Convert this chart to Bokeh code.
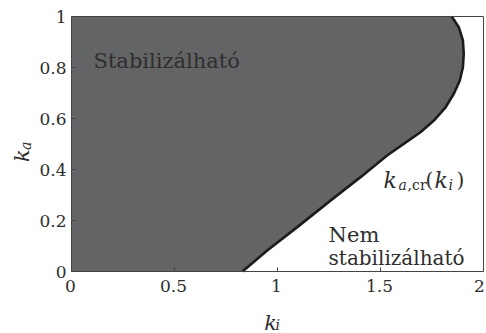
import math
from bokeh.plotting import figure
from bokeh.models import Range1d
from bokeh.core.properties import value
from bokeh.embed import file_html
from bokeh.resources import INLINE

# Boundary curve k_a,cr(k_i)
ki_curve = [0.83, 0.950, 1.096, 1.257, 1.403, 1.532, 1.637, 1.694, 1.759, 1.816,
            1.856, 1.885, 1.900, 1.904, 1.900, 1.880, 1.846]
ka_curve = [0.0, 0.082, 0.174, 0.278, 0.370, 0.455, 0.514, 0.546, 0.592, 0.644,
            0.697, 0.749, 0.801, 0.854, 0.906, 0.958, 1.0]

x_ticks = [0, 0.5, 1, 1.5, 2]
x_tick_labels = ["0", "0.5", "1", "1.5", "2"]
y_ticks = [0, 0.2, 0.4, 0.6, 0.8, 1]
y_tick_labels = ["0", "0.2", "0.4", "0.6", "0.8", "1"]

region_label = "Stabilizálható"
other_label_1 = "Nem"
other_label_2 = "stabilizálható"

FONT = value("DejaVu Serif")
TXT = "#2e2e2e"
AX = "#444444"

# canvas layout (pixels): plot box occupies x 71..483, y 16..271 of a 486x333 canvas
W, H = 486, 333
L, R, T, B = 71, 3, 16, 62
x0, x1 = x_ticks[0], x_ticks[-1]
y0, y1 = y_ticks[0], y_ticks[-1]
sx = (x1 - x0) / (W - L - R)
sy = (y1 - y0) / (H - T - B)

p = figure(width=W, height=H, output_backend="svg", toolbar_location=None,
           x_axis_type=None, y_axis_type=None,
           x_range=Range1d(x0 - L * sx, x1 + R * sx),
           y_range=Range1d(y0 - B * sy, y1 + T * sy),
           min_border=0)
p.grid.visible = False
p.outline_line_color = None
p.background_fill_color = "white"
p.border_fill_color = "white"

# stabilizable region: left of the curve
xs = [x0] + ki_curve + [x0]
ys = [y0] + ka_curve + [y1]
p.patch(xs, ys, fill_color="#636466", line_color=None)
p.line(ki_curve, ka_curve, line_color="#1c1c1c", line_width=2.6)

# axes box and inward ticks
p.quad(left=[x0], right=[x1], bottom=[y0], top=[y1], fill_color=None,
       line_color=AX, line_width=1)
p.ray(x=x_ticks, y=[y0] * len(x_ticks), length=4, length_units="screen",
      angle=math.pi / 2, line_color=AX, line_width=1)
p.ray(x=[x0] * len(y_ticks), y=y_ticks, length=4, length_units="screen",
      angle=0, line_color=AX, line_width=1)

# tick labels
p.text(x=x_ticks[:-1], y=[y0] * (len(x_ticks) - 1), text=x_tick_labels[:-1],
       text_font=FONT, text_font_size="17px", text_color=TXT,
       text_align="center", text_baseline="top", x_offset=-1, y_offset=8)
p.text(x=x_ticks[-1:], y=[y0], text=x_tick_labels[-1:],
       text_font=FONT, text_font_size="17px", text_color=TXT,
       text_align="center", text_baseline="top", x_offset=-4, y_offset=8)
p.text(x=[x0] * len(y_ticks), y=y_ticks, text=y_tick_labels,
       text_font=FONT, text_font_size="17px", text_color=TXT,
       text_align="right", text_baseline="middle", x_offset=-5, y_offset=0)

def txt(x, y, s, size, style="normal", xo=0, yo=0, angle=0, align="left"):
    p.text(x=[x], y=[y], text=[s], text_font=FONT, text_font_size=size,
           text_font_style=style, text_color=TXT, text_align=align,
           text_baseline="alphabetic", x_offset=xo, y_offset=yo, angle=angle)

# region names
txt(0.107, 0.824, region_label, "21px")
txt(1.248, 0.145, other_label_1, "21px")
txt(1.248, 0.053, other_label_2, "20px")

# k_{a,cr}(k_i)
ax0, ay0 = 1.515, 0.357
txt(ax0, ay0, "k", "22px", "italic", xo=0)
txt(ax0, ay0, "a", "14px", "italic", xo=15, yo=5)
txt(ax0, ay0, ",cr", "14px", "normal", xo=24, yo=5)
txt(ax0, ay0, "(", "20px", "normal", xo=42)
txt(ax0, ay0, "k", "22px", "italic", xo=51)
txt(ax0, ay0, "i", "14px", "italic", xo=65, yo=5)
txt(ax0, ay0, ")", "20px", "normal", xo=73)

# axis titles
xm = (x0 + x1) / 2
ym = (y0 + y1) / 2
txt(xm, y0, "k", "21px", "italic", xo=-7, yo=51, align="center")
txt(xm, y0, "i", "14px", "italic", xo=-2, yo=53)
txt(x0, ym, "k", "21px", "italic", xo=-50, yo=18, angle=math.pi / 2)
txt(x0, ym, "a", "14px", "italic", xo=-46, yo=6, angle=math.pi / 2)

open("out.html", "w").write(file_html(p, INLINE))
